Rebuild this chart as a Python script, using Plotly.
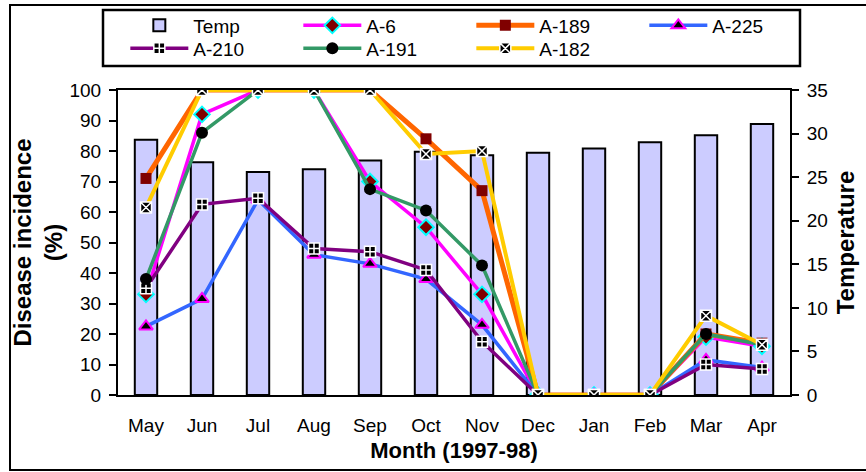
import plotly.graph_objects as go

months = ["May", "Jun", "Jul", "Aug", "Sep", "Oct", "Nov", "Dec", "Jan", "Feb", "Mar", "Apr"]
temp = [29.3, 26.7, 25.6, 25.9, 26.9, 27.9, 27.5, 27.8, 28.3, 29.0, 29.8, 31.1]
a6 = [33, 92, 100, 100, 70, 55, 33, 0, 0, 0, 19, 16]
a189 = [71, 100, 100, 100, 100, 84, 67, 0, 0, 0, 20, 17]
a225 = [22.5, 31.5, 64, 46, 43, 38, 23, 0, 0, 0, 11.5, 9]
a210 = [35, 62.5, 64.5, 48, 47, 41, 17.5, 0, 0, 0, 10, 8.5]
a191 = [38, 86, 100, 100, 67.5, 60.5, 42.5, 0, 0, 0, 20, 16.5]
a182 = [61.5, 100, 100, 100, 100, 79, 80, 0, 0, 0, 26, 16.5]

FONT = "Liberation Sans, Arial, sans-serif"

# plot area in pixels
L, R, T, B = 118, 790, 90, 395
W, H = 866, 472
pw, ph = R - L, B - T

def px(x):
    return (x - L) / pw

def py(y):
    return (B - y) / ph

fig = go.Figure()

fig.add_trace(go.Bar(
    x=months, y=temp, name="Temp", yaxis="y", width=0.4,
    marker=dict(color="#CCCCFF", line=dict(color="black", width=2)),
    legend="legend",
))

series = [
    ("A-6", a6, "#FF00FF", 3.5, dict(symbol="diamond", size=12, color="#800000", line=dict(color="#00FFFF", width=2)), "legend"),
    ("A-189", a189, "#FF6600", 5, dict(symbol="square", size=11, color="#800000", line=dict(color="#800000", width=0)), "legend"),
    ("A-225", a225, "#3366FF", 3.5, dict(symbol="triangle-up", size=12, color="black", line=dict(color="#FF00FF", width=2)), "legend"),
    ("A-210", a210, "#800080", 3.5, dict(symbol="square-cross", size=11, color="black", line=dict(color="white", width=1.5)), "legend2"),
    ("A-191", a191, "#339966", 3.5, dict(symbol="circle", size=12, color="black", line=dict(color="black", width=0)), "legend2"),
    ("A-182", a182, "#FFCC00", 4, dict(symbol="square-x", size=11, color="black", line=dict(color="white", width=1.5)), "legend2"),
]
for name, vals, col, lw, mk, lg in series:
    fig.add_trace(go.Scatter(
        x=months, y=vals, name=name, yaxis="y2", mode="lines+markers",
        line=dict(color=col, width=lw), marker=mk, legend=lg,
    ))

axis_common = dict(
    showline=True, linecolor="black", linewidth=2, ticks="outside",
    ticklen=7, tickcolor="black", tickwidth=1.5, showgrid=False, zeroline=False,
    ticklabelstandoff=4,
    tickfont=dict(family=FONT, size=19, color="black"),
)

legend_common = dict(
    orientation="h", x=-0.001, xanchor="left", yanchor="middle",
    itemwidth=58, indentation=8, entrywidth=92, entrywidthmode="pixels",
    bgcolor="rgba(0,0,0,0)", borderwidth=0,
    font=dict(family=FONT, size=19, color="black"), traceorder="normal",
)

fig.update_layout(
    width=W, height=H,
    margin=dict(l=L, r=W - R, t=T, b=H - B, autoexpand=False),
    paper_bgcolor="white", plot_bgcolor="white",
    font=dict(family=FONT, size=19, color="black"),
    xaxis=dict(
        showline=True, linecolor="black", linewidth=2, mirror=True, ticks="",
        range=[-0.5, 11.5], showgrid=False, ticklabelstandoff=12,
        tickfont=dict(family=FONT, size=19, color="black"),
        title=dict(text="<b>Month (1997-98)</b>", font=dict(family=FONT, size=22), standoff=8),
    ),
    yaxis=dict(
        axis_common, side="right", range=[0, 35], dtick=5,
        title=dict(text="<b>Temperature</b>", font=dict(family=FONT, size=24), standoff=10),
    ),
    yaxis2=dict(
        axis_common, side="left", overlaying="y", range=[0, 100], dtick=10,
        title=dict(text="<b>Disease incidence<br>(%)</b>", font=dict(family=FONT, size=24), standoff=0),
    ),
    legend=dict(legend_common, y=py(25.5)),
    legend2=dict(legend_common, y=py(48.5)),
    shapes=[
        dict(type="rect", xref="paper", yref="paper", x0=px(10), x1=px(872), y0=py(470), y1=py(5),
             line=dict(color="black", width=2), layer="below"),
        dict(type="rect", xref="paper", yref="paper", x0=px(103), x1=px(800), y0=py(66), y1=py(10),
             line=dict(color="black", width=2.5), layer="below"),
    ],
)

fig.write_html("out.html", config={"displayModeBar": False},
               post_script="document.body.style.margin='0';")
